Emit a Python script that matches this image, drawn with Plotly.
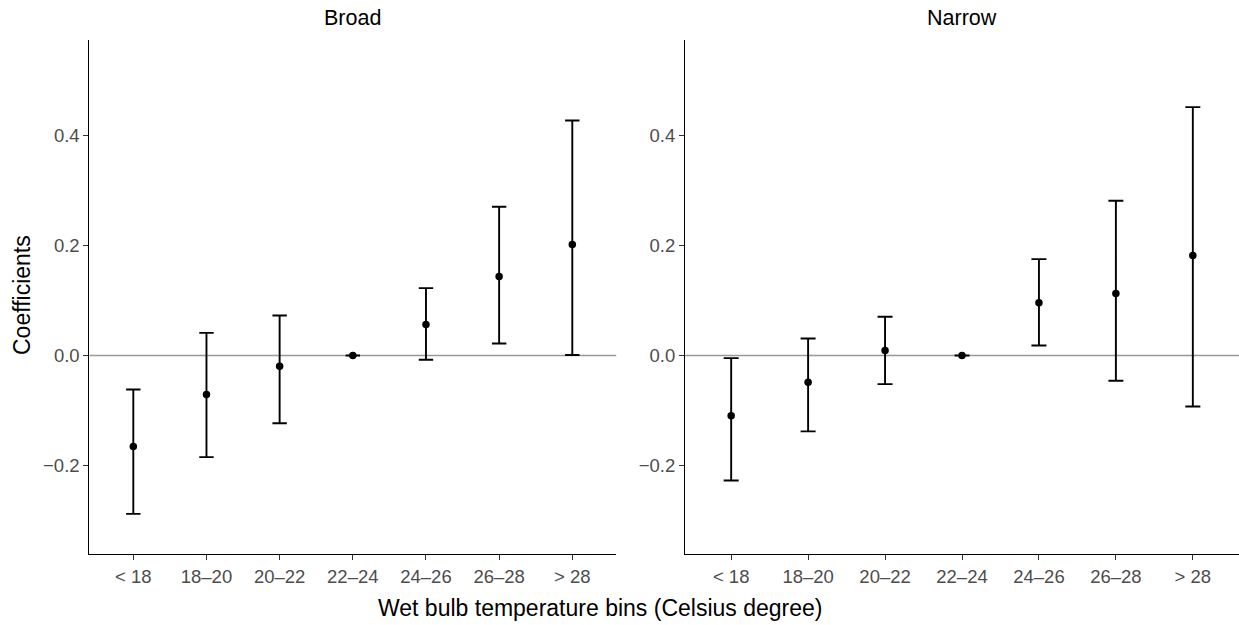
import plotly.graph_objects as go

bins = ["< 18", "18\u201320", "20\u201322", "22\u201324", "24\u201326", "26\u201328", "> 28"]

broad_coef = [-0.1655, -0.0709, -0.0195, 0.0, 0.0564, 0.1436, 0.2018]
broad_upper = [-0.0618, 0.0411, 0.0727, 0.0, 0.1224, 0.2703, 0.4273]
broad_lower = [-0.2880, -0.1849, -0.1231, 0.0, -0.0079, 0.0218, 0.0010]

narrow_coef = [-0.1096, -0.0485, 0.0091, 0.0, 0.0958, 0.1127, 0.1818]
narrow_upper = [-0.0048, 0.0310, 0.0703, 0.0, 0.1752, 0.2812, 0.4516]
narrow_lower = [-0.2272, -0.1380, -0.0521, 0.0, 0.0182, -0.0460, -0.0927]

panel_titles = ["Broad", "Narrow"]
y_ticks = [-0.2, 0.0, 0.2, 0.4]
y_tick_text = ["\u22120.2", "0.0", "0.2", "0.4"]

W, H = 1239, 625
FONT = "Liberation Sans, Arial, Helvetica, sans-serif"

fig = go.Figure()

def add_panel(coef, upper, lower, xa, ya, capw):
    fig.add_trace(go.Scatter(
        x=bins, y=coef, mode="markers", xaxis=xa, yaxis=ya,
        marker=dict(color="black", size=7.5),
        error_y=dict(type="data", symmetric=False,
                     array=[u - c for u, c in zip(upper, coef)],
                     arrayminus=[c - l for c, l in zip(coef, lower)],
                     color="black", thickness=1.9, width=capw),
        showlegend=False, cliponaxis=False,
    ))

add_panel(broad_coef, broad_upper, broad_lower, "x", "y", 7.2)
add_panel(narrow_coef, narrow_upper, narrow_lower, "x2", "y2", 7.5)

ydom = [1 - 554.3 / H, 1 - 40 / H]
xdom1 = [89.4 / W, 616.2 / W]
xdom2 = [685.0 / W, 1.0]
yrange = [-0.3615, 0.5736]

xcommon = dict(
    type="category", categoryorder="array", categoryarray=bins,
    range=[-0.6, 6.6], showgrid=False, zeroline=False,
    showline=True, linecolor="black", linewidth=1.2,
    ticks="outside", ticklen=5, tickwidth=1.1, tickcolor="#333333",
    tickfont=dict(family=FONT, size=18.5, color="#4D4D4D"),
    fixedrange=True,
)
ycommon = dict(
    range=yrange, showgrid=False, zeroline=False,
    showline=True, linecolor="black", linewidth=1.2,
    ticks="outside", ticklen=5, tickwidth=1.1, tickcolor="#333333",
    tickvals=y_ticks, ticktext=y_tick_text,
    tickfont=dict(family=FONT, size=18.5, color="#4D4D4D"),
    fixedrange=True,
)

fig.update_layout(
    width=W, height=H, autosize=False,
    margin=dict(l=0, r=0, t=0, b=0),
    paper_bgcolor="white", plot_bgcolor="white",
    xaxis=dict(domain=xdom1, anchor="y", **xcommon),
    yaxis=dict(domain=ydom, anchor="x", **ycommon),
    xaxis2=dict(domain=xdom2, anchor="y2", **xcommon),
    yaxis2=dict(domain=ydom, anchor="x2", **ycommon),
)

for xr, yr in [("x", "y"), ("x2", "y2")]:
    fig.add_shape(type="line", xref=xr + " domain", yref=yr,
                  x0=0, x1=1, y0=0, y1=0,
                  line=dict(color="#999999", width=1.3), layer="below")

# panel titles
for title, dom in zip(panel_titles, [xdom1, xdom2]):
    fig.add_annotation(text=title, x=(dom[0] + dom[1]) / 2, y=1 - 18 / H,
                       xref="paper", yref="paper", xanchor="center", yanchor="middle",
                       showarrow=False, font=dict(family=FONT, size=21.5, color="black"))

# axis titles
fig.add_annotation(text="Coefficients", x=22 / W, y=1 - 295 / H,
                   xref="paper", yref="paper", xanchor="center", yanchor="middle",
                   textangle=-90, showarrow=False,
                   font=dict(family=FONT, size=23, color="black"))
fig.add_annotation(text="Wet bulb temperature bins (Celsius degree)", x=600 / W, y=1 - 608 / H,
                   xref="paper", yref="paper", xanchor="center", yanchor="middle",
                   showarrow=False, font=dict(family=FONT, size=23, color="black"))

fig.write_html("out.html",
               config={"displayModeBar": False},
               post_script="document.body.style.margin='0';document.body.style.overflow='hidden';")
